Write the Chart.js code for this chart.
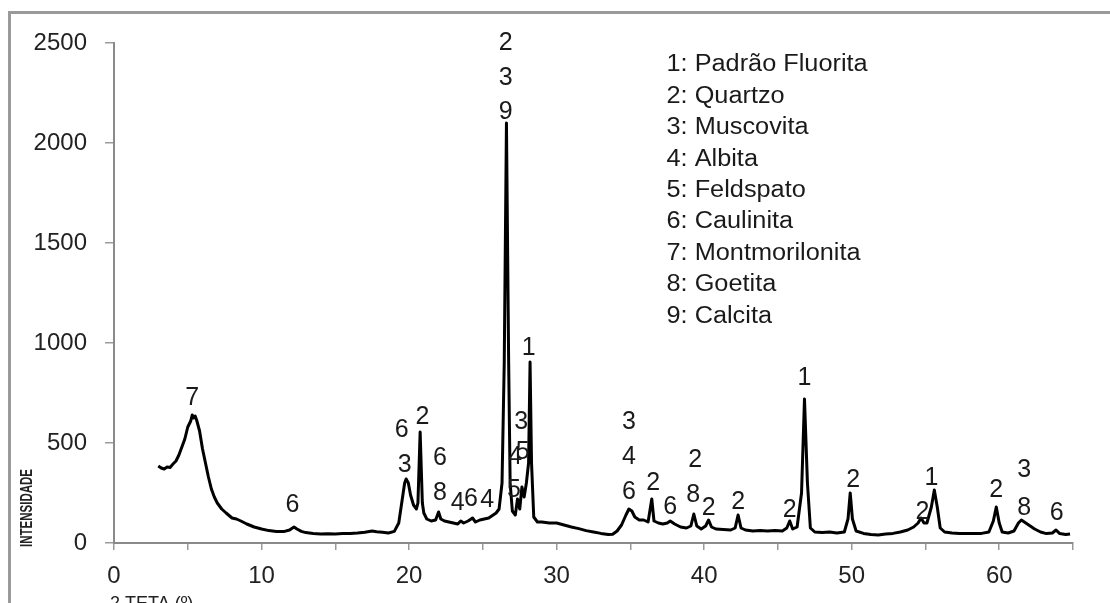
<!DOCTYPE html>
<html>
<head>
<meta charset="utf-8">
<script src="https://cdn.jsdelivr.net/npm/chart.js@4/dist/chart.umd.min.js"></script>
<style>
  html, body { margin: 0; padding: 0; background: #fff; }
  #wrap { width: 1110px; height: 603px; }
</style>
</head>
<body>
<div id="wrap"><canvas id="c" width="1110" height="603"></canvas></div>
<script>
// ---- Data ----
const twoTheta = [
  3.0,3.2,3.4,3.6,3.8,4.0,4.2,4.4,4.6,4.8,5.0,5.2,5.3,5.4,5.5,5.6,5.8,6.0,6.2,6.4,6.6,6.8,7.0,7.3,7.6,8.0,8.3,8.6,9.0,9.5,
  10.0,10.5,11.0,11.5,11.9,12.2,12.4,12.7,13.0,13.5,14.0,14.5,15.0,15.5,16.0,16.5,17.0,17.5,17.8,18.2,18.6,19.0,19.3,19.5,19.7,19.8,19.95,20.1,20.3,20.5,
  20.6,20.75,20.9,21.0,21.2,21.5,21.8,22.0,22.15,22.4,22.7,23.0,23.3,23.5,23.7,24.0,24.3,24.5,24.8,25.1,25.4,25.7,25.9,26.1,26.3,26.45,26.6,26.75,26.85,27.0,
  27.2,27.35,27.5,27.65,27.8,27.95,28.1,28.2,28.3,28.45,28.7,29.0,29.5,30.0,30.5,31.0,31.5,32.0,32.5,33.0,33.5,33.8,34.1,34.4,34.7,34.9,35.1,35.3,35.6,35.9,
  36.2,36.45,36.6,36.9,37.2,37.5,37.7,38.0,38.4,38.8,39.1,39.3,39.5,39.8,40.1,40.3,40.5,40.8,41.3,41.8,42.1,42.3,42.5,42.8,43.3,43.8,44.3,44.8,45.3,45.6,
  45.8,46.0,46.3,46.6,46.8,47.0,47.2,47.5,48.0,48.5,49.0,49.5,49.75,49.9,50.05,50.3,50.8,51.3,51.8,52.3,52.8,53.3,53.8,54.2,54.5,54.7,54.9,55.1,55.4,55.6,
  55.8,56.0,56.3,56.8,57.3,57.8,58.3,58.8,59.3,59.6,59.8,60.0,60.2,60.6,61.0,61.3,61.5,61.8,62.1,62.4,62.8,63.2,63.6,63.85,64.1,64.5,64.8
];
const intensity = [
  385,375,370,380,378,395,410,440,480,520,580,610,640,625,635,615,560,470,400,330,270,230,200,170,150,125,120,110,95,80,
  70,62,58,57,65,80,70,58,52,48,45,46,45,47,48,50,54,60,56,54,50,58,100,200,300,320,300,240,190,170,
  200,555,200,150,120,110,115,155,120,110,105,100,95,110,100,110,125,105,115,120,125,140,150,170,300,900,2100,900,300,160,
  140,220,170,280,230,300,400,905,400,130,105,105,100,100,90,80,72,62,55,48,42,44,60,90,140,170,160,130,115,115,
  105,220,110,100,95,100,110,95,80,75,85,145,85,70,85,115,80,70,68,65,75,140,75,65,60,62,60,62,60,75,
  110,70,80,250,720,300,75,55,52,55,50,55,120,250,120,60,48,42,40,45,48,55,65,80,100,125,100,100,180,265,
  180,75,55,50,47,47,47,48,55,110,180,100,55,50,60,100,115,100,85,70,55,47,50,65,47,42,45
];
const xTicks = [0, 10, 20, 30, 40, 50, 60];
const yTicks = [0, 500, 1000, 1500, 2000, 2500];
const legendItems = [
  '1: Padrão Fluorita','2: Quartzo','3: Muscovita','4: Albita','5: Feldspato',
  '6: Caulinita','7: Montmorilonita','8: Goetita','9: Calcita'
];
// peak labels: [2θ, intensity at label centre, text]
const peakLabelX = [5.3,12.1,19.5,20.9,19.7,22.1,22.1,23.3,24.2,25.3,26.55,26.55,26.55,27.6,27.2,27.7,27.1,28.1,34.9,34.9,34.9,36.55,37.7,39.4,39.25,40.3,42.3,45.8,46.8,50.1,54.8,55.4,59.8,61.7,61.7,63.9];
const peakLabelY = [725,190,565,630,390,425,250,200,220,215,2500,2325,2155,605,430,455,265,975,605,430,255,300,180,415,240,175,205,165,825,315,155,325,265,365,175,150];
const peakLabelText = ['7','6','6','2','3','6','8','4','6','4','2','3','9','3','4','5','5','1','3','4','6','2','6','2','8','2','2','2','1','2','2','1','2','3','8','6'];
const xTitle = '2 TETA (º)';
const yTitle = 'INTENSIDADE';

const FONT = '"Liberation Sans", Arial, sans-serif';

const decor = {
  id: 'decor',
  beforeDraw(chart) {
    const c = chart.ctx;
    c.save();
    c.fillStyle = '#fff';
    c.fillRect(0, 0, chart.width, chart.height);
    c.strokeStyle = '#9a9a9a';
    c.lineWidth = 3;
    c.beginPath();
    c.moveTo(8, 12.5); c.lineTo(chart.width, 12.5);
    c.moveTo(9.5, 11); c.lineTo(9.5, chart.height);
    c.stroke();
    c.restore();
  },
  afterDraw(chart) {
    const c = chart.ctx;
    const xs = chart.scales.x, ys = chart.scales.y;
    c.save();
    // peak labels
    c.fillStyle = '#1a1a1a';
    c.font = '25px ' + FONT;
    c.textAlign = 'center';
    c.textBaseline = 'middle';
    for (let i = 0; i < peakLabelText.length; i++) {
      c.fillText(peakLabelText[i], xs.getPixelForValue(peakLabelX[i]), ys.getPixelForValue(peakLabelY[i]));
    }
    // legend box text
    c.font = '23px ' + FONT;
    c.textAlign = 'left';
    const lx = xs.getPixelForValue(37.45);
    for (let i = 0; i < legendItems.length; i++) {
      const ly = ys.getPixelForValue(2390 - i * 157);
      c.save();
      c.translate(lx, ly);
      c.scale(1.1, 1);
      c.fillText(legendItems[i], 0, 0);
      c.restore();
    }
    // y-axis title
    c.save();
    c.font = 'bold 16px ' + FONT;
    c.fillStyle = '#222';
    c.translate(28, ys.bottom - 35);
    c.rotate(-Math.PI / 2);
    c.scale(0.72, 1);
    c.textAlign = 'center';
    c.fillText(yTitle, 0, 0);
    c.restore();
    // x-axis title (cut by the bottom edge, as in the reference)
    c.font = '18px ' + FONT;
    c.fillStyle = '#222';
    c.textAlign = 'left';
    c.textBaseline = 'alphabetic';
    c.fillText(xTitle, xs.left - 4, 609);
    c.restore();
  }
};

new Chart(document.getElementById('c'), {
  type: 'line',
  data: {
    datasets: [{
      data: twoTheta.map((x, i) => ({ x: x, y: intensity[i] })),
      borderColor: '#000',
      borderWidth: 3,
      borderJoinStyle: 'round',
      pointRadius: 0,
      tension: 0,
      fill: false
    }]
  },
  options: {
    responsive: false,
    animation: false,
    layout: { padding: { top: 43, right: 37, left: 0, bottom: 0 } },
    plugins: { legend: { display: false }, tooltip: { enabled: false } },
    scales: {
      x: {
        type: 'linear', min: 0, max: 65,
        afterBuildTicks: s => { s.ticks = [0,5,10,15,20,25,30,35,40,45,50,55,60,65].map(v => ({ value: v })); },
        ticks: {
          autoSkip: false, maxRotation: 0, padding: 12,
          callback: v => xTicks.includes(v) ? String(v) : '',
          font: { size: 24, family: FONT }, color: '#222'
        },
        grid: { drawOnChartArea: false, drawTicks: true, tickLength: 7, color: '#9a9a9a', lineWidth: 1.5 },
        border: { color: '#8a8a8a', width: 2 },
        afterFit: s => { s.height = 60; }
      },
      y: {
        min: 0, max: 2500,
        afterBuildTicks: s => { s.ticks = yTicks.map(v => ({ value: v })); },
        ticks: {
          padding: 18,
          callback: v => String(v),
          font: { size: 24, family: FONT }, color: '#222'
        },
        grid: { drawOnChartArea: false, drawTicks: true, tickLength: 9, color: '#9a9a9a', lineWidth: 1.5 },
        border: { color: '#8a8a8a', width: 2 },
        afterFit: s => { s.width = 114; }
      }
    }
  },
  plugins: [decor]
});
</script>
</body>
</html>
